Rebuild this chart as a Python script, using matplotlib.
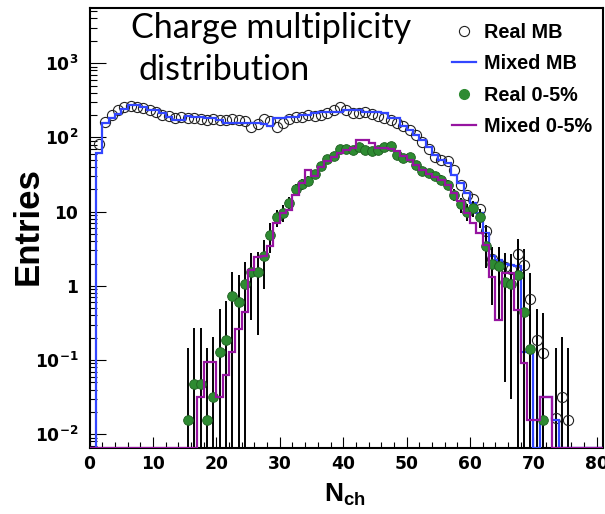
import numpy as np
import matplotlib
matplotlib.use("Agg")
import matplotlib.pyplot as plt
from matplotlib.lines import Line2D
from matplotlib.ticker import FixedLocator, MultipleLocator, LogLocator, NullFormatter

plt.rcParams['mathtext.fontset'] = 'custom'
plt.rcParams['mathtext.bf'] = 'Liberation Sans:bold'
plt.rcParams['mathtext.rm'] = 'Liberation Sans'

# bins of width 1, N_ch from 0 to 81
edges = np.arange(0, 82)

# Real MB (open circles)
real_mb = [0, 81, 160, 201, 235, 258, 266, 260, 250, 236,
           218, 203, 192, 184, 186, 181, 181, 176, 172, 177,
           169, 172, 176, 172, 165, 140, 150, 176, 165, 140,
           158, 176, 187, 191, 201, 197, 201, 212, 235, 255,
           235, 216, 212, 218, 207, 197, 181, 172, 158, 143,
           124, 108, 88, 70, 54, 50, 48, 36, 23, 17,
           15, 11, 5.5, 2.3, 2.0, 1.8, 1.7, 2.7, 1.9, 0.66,
           0.186, 0.126, 0, 0.0166, 0.032, 0.0155, 0, 0, 0, 0, 0]
real_mb_err = [0] * 62 + [1.2, 1.0, 1.0, 1.0, 1.0, 1.3, 1.2, 0.85,
                          0.3, 0.3, 0, 0.13, 0.17, 0.13, 0, 0, 0, 0, 0]

# Mixed MB (blue histogram)
mixed_mb = [0, 62, 155, 181, 207, 240, 274, 274, 260, 235,
            235, 212, 191, 172, 172, 195, 191, 186, 181, 181,
            172, 158, 158, 158, 155, 158, 158, 150, 143, 181,
            181, 191, 191, 201, 201, 210, 223, 223, 223, 223,
            235, 235, 235, 223, 223, 223, 210, 181, 181, 143,
            126, 108, 93, 75, 58, 50, 45, 31, 24, 18,
            13, 9.5, 5.1, 2.5, 2.2, 2.0, 1.9, 1.85, 0.13, 0.13,
            0, 0.032, 0.032, 0.0155, 0, 0, 0, 0, 0, 0, 0]

# Real 0-5% (green points)
real_c = [0] * 15 + [0.0156, 0.048, 0.048, 0.0156, 0.032,
                     0.127, 0.186, 0.72, 0.6, 1.06,
                     1.55, 1.55, 2.53, 4.86, 8.4,
                     9.7, 13, 20.2, 23.4, 26,
                     32, 41, 51, 56, 69,
                     70, 68, 75, 68, 66,
                     68, 75, 77, 58, 52,
                     55, 42, 35, 33, 30,
                     27, 23, 17, 12.5, 10,
                     11.2, 8.5, 3.45, 1.95, 1.85,
                     1.12, 1.06, 1.4, 0.44, 0.14,
                     0, 0.0156, 0, 0, 0, 0, 0, 0, 0, 0, 0]
real_c_err = [0] * 15 + [0.13, 0.22, 0.22, 0.13, 0.175,
                         0.36, 0.44, 0.83, 0.8, 1.06,
                         1.2, 1.33, 1.63, 2.1, 2.2,
                         2.4, 2.8, 3.5, 3.8, 4,
                         4.5, 5, 5.5, 6, 6,
                         6, 6, 6, 6, 6,
                         6, 6, 6, 5.5, 5,
                         5, 4.5, 4, 4, 4,
                         3.8, 3.5, 3, 2.8, 2.6,
                         2.8, 2.5, 1.7, 1.4, 1.5,
                         1.07, 1.03, 2.9, 1.0, 0.3,
                         0, 0.13, 0, 0, 0, 0, 0, 0, 0, 0, 0]

# Mixed 0-5% (magenta histogram)
mixed_c = [0] * 17 + [0.032, 0.095, 0.095, 0.032, 0.063,
                      0.13, 0.26, 0.45, 1.64, 2.48,
                      2.5, 3.4, 7.0, 9.5, 10.5,
                      16.8, 24, 36, 30, 40,
                      48, 55, 62, 68, 72,
                      92, 92, 84, 72, 72,
                      70, 66, 56, 50, 43,
                      36, 32, 29, 27, 23,
                      17.7, 14, 9.5, 7.0, 5.1,
                      3.6, 1.3, 0.35, 1.5, 1.5,
                      0.47, 0.09, 0.0155, 0.0155, 0.032,
                      0.032, 0, 0, 0, 0, 0, 0, 0, 0]

ymin, ymax = 0.0066, 5500
centers = edges[:-1] + 0.5

blue = '#3246ff'
magenta = '#9614a0'
green = '#2e8b32'

fig = plt.figure(figsize=(6.05, 5.14), dpi=100)
ax = fig.add_axes([0.148, 0.129, 0.849, 0.855])
ax.set_yscale('log')

# Real MB
y = np.array(real_mb, dtype=float)
e = np.array(real_mb_err, dtype=float)
m = y > 0
ax.errorbar(centers[m], y[m], yerr=[np.minimum(e[m], y[m] * 0.9999), e[m]],
            fmt='none', ecolor='black', elinewidth=1.4, zorder=2)
ax.plot(centers[m], y[m], 'o', ms=7.3, mfc='none', mec='#222222', mew=0.8, zorder=3)

# Mixed MB
ax.stairs(np.clip(mixed_mb, ymin, None), edges, baseline=None, color=blue, lw=1.6, zorder=4)

# Real 0-5%
y = np.array(real_c, dtype=float)
e = np.array(real_c_err, dtype=float)
m = y > 0
ax.errorbar(centers[m], y[m], yerr=[np.minimum(e[m], y[m] * 0.9999), e[m]],
            fmt='none', ecolor='black', elinewidth=1.4, zorder=5)
ax.plot(centers[m], y[m], 'o', ms=7, mfc=green, mec='#1e5e20', mew=0.6, zorder=6)

# Mixed 0-5%
ax.stairs(np.clip(mixed_c, ymin, None), edges, baseline=None, color=magenta, lw=1.6, zorder=7)

ax.set_xlim(0, 81)
ax.set_ylim(ymin, ymax)

tick_font = dict(family='DejaVu Sans', weight='bold', size=12.3)
ax.xaxis.set_major_locator(FixedLocator(np.arange(0, 81, 10)))
ax.xaxis.set_minor_locator(MultipleLocator(2))
ax.set_xticklabels([str(v) for v in range(0, 81, 10)], fontdict=tick_font)

ydec = [1e-2, 1e-1, 1, 10, 1e2, 1e3]
ylabs = [r'$\mathbf{10^{-2}}$', r'$\mathbf{10^{-1}}$', '1', '10',
         r'$\mathbf{10^{2}}$', r'$\mathbf{10^{3}}$']
ax.yaxis.set_major_locator(FixedLocator(ydec))
ax.yaxis.set_minor_locator(LogLocator(base=10, subs=np.arange(2, 10)))
ax.yaxis.set_minor_formatter(NullFormatter())
ax.set_yticklabels(ylabs, fontdict=tick_font)
for lab in ax.get_yticklabels():
    lab.set_math_fontfamily('dejavusans')

ax.tick_params(axis='x', which='major', direction='in', length=7.7, width=0.8, pad=5)
ax.tick_params(axis='x', which='minor', direction='in', length=4.2, width=0.8)
ax.tick_params(axis='y', which='major', direction='in', length=11.5, width=0.8, pad=8)
ax.tick_params(axis='y', which='minor', direction='in', length=5, width=0.8)
for s in ax.spines.values():
    s.set_linewidth(1.5)

fig.text(28.3 / 605, 1 - 226.5 / 514, 'Entries', rotation=90, ha='center', va='center',
         family='Liberation Sans', weight='bold', size=25)
fig.text(345 / 605, 1 - 501.7 / 514, r'$\mathbf{N_{ch}}$', ha='center', va='baseline',
         size=19, math_fontfamily='custom')

fig.text(131 / 605, 1 - 38 / 514, 'Charge multiplicity', family='Lato', size=24.5, va='baseline')
fig.text(138 / 605, 1 - 80 / 514, 'distribution', family='Lato', size=24.5, va='baseline')

handles = [Line2D([], [], ls='none', marker='o', ms=7.3, mfc='none', mec='#222222', mew=0.8),
           Line2D([], [], color=blue, lw=1.6),
           Line2D([], [], ls='none', marker='o', ms=7, mfc=green, mec=green),
           Line2D([], [], color=magenta, lw=1.6)]
labels = ['Real MB', 'Mixed MB', 'Real 0-5%', 'Mixed 0-5%']
ax.legend(handles, labels, loc='upper left', bbox_to_anchor=(452 / 605, 1 - 23 / 514),
          bbox_transform=fig.transFigure, frameon=False, borderpad=0, borderaxespad=0,
          handlelength=1.2, handletextpad=0.4, labelspacing=0.62,
          prop=dict(family='Liberation Sans', weight='bold', size=14.3))

fig.savefig('out.png', dpi=100)
